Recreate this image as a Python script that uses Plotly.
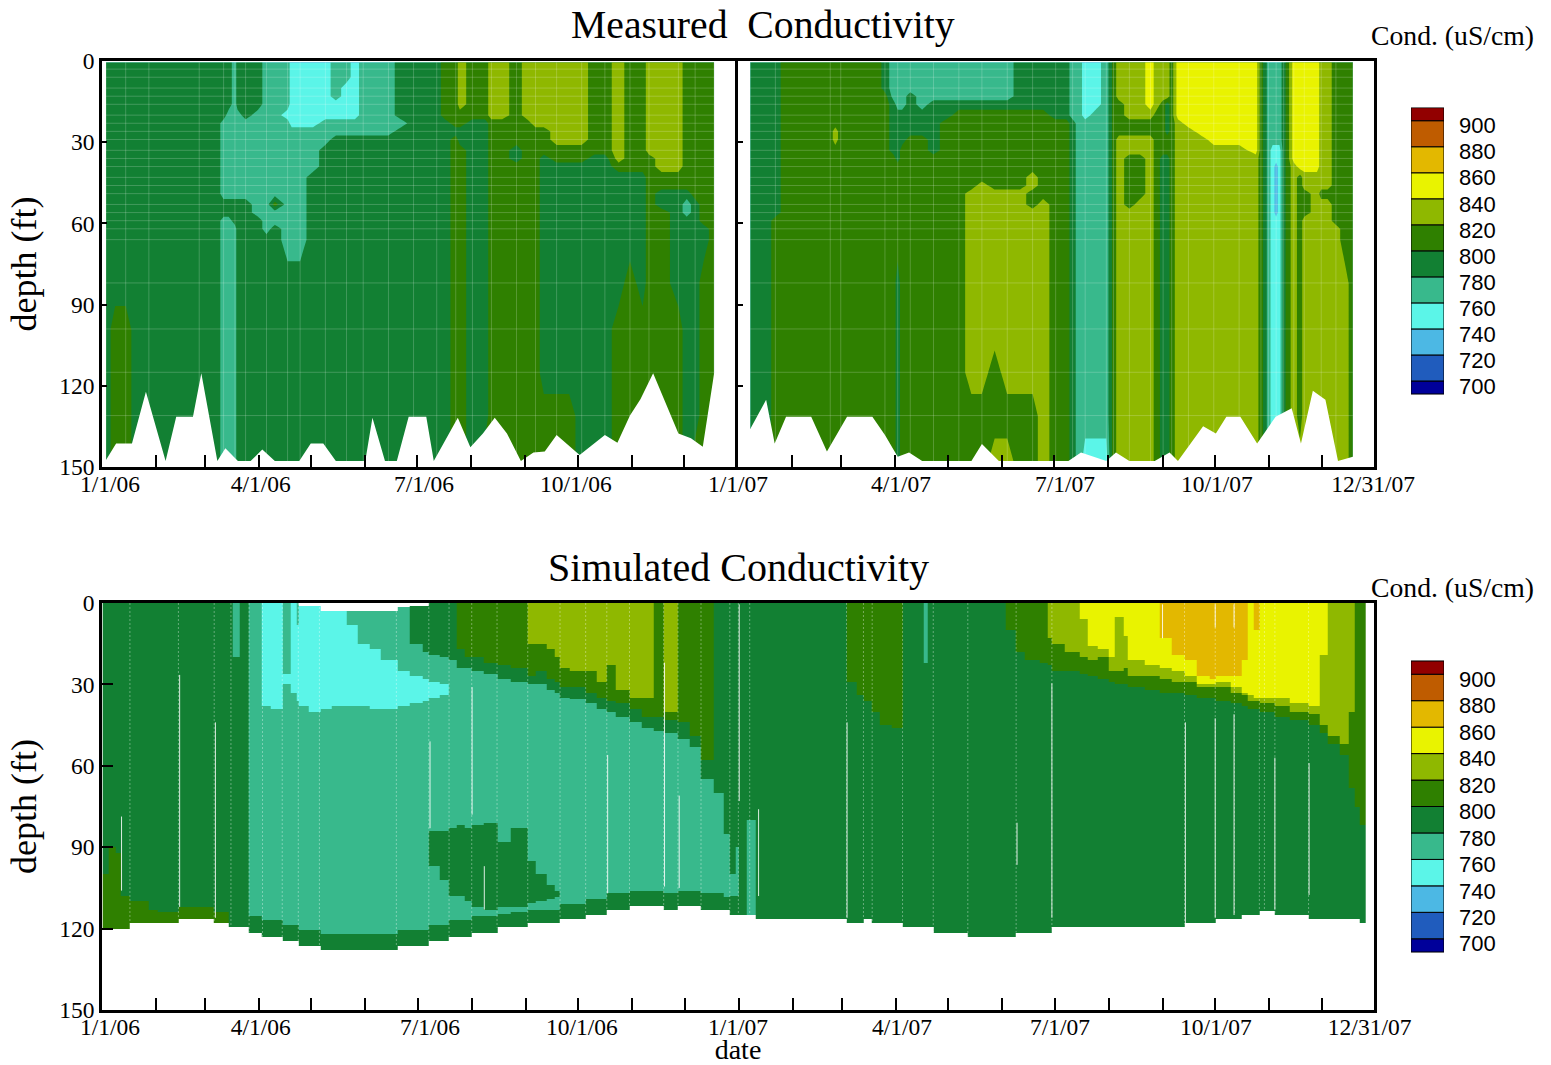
import numpy as np
import pandas as pd
import plotly.graph_objects as go

W, H = 1551, 1065
START = pd.Timestamp("2006-01-01")

def to_dates(days):
    return [START + pd.Timedelta(days=float(d)) for d in days]

# conductivity bands (uS/cm, band centres)
C, T, G, D, O, Y, A = 750, 770, 790, 810, 830, 850, 870
B = 730
X = None

legend_edges = [690, 700, 720, 740, 760, 780, 800, 820, 840, 860, 880, 900, 910]
legend_colors = ["#00009a", "#205cbd", "#4cb8e4", "#5bf5e8", "#38b98c", "#128033",
                 "#2f8000", "#8fb800", "#e9f300", "#e3b800", "#bf5c00", "#920000"]
legend_ticks = [700, 720, 740, 760, 780, 800, 820, 840, 860, 880, 900]

# measured profiles, 2006: [day, value, to depth, value, to depth, ..., value]
measured_2006 = [
    [2.3, G], [7.6, G, 97, D], [13.6, G, 97, D], [20.1, G, 115, D, 130, G], [26.9, G], [41.4, G], [55.8, G], [66, G],
    [69.8, G, 20, T, 50, G, 58, T], [72.7, G, 16, T, 50, G, 58, T], [76.3, T, 50, G, 60, T], [77.8, G, 18, T, 50, G],
    [82.4, G, 22, T, 50, G], [89.6, G, 18, T, 57, G], [94.4, T, 65, G], [99.2, T, 50, D, 54, T, 60, G], [106.5, T, 18, C, 22, T, 66, G],
    [108.9, C, 24, T, 72, G], [113.7, C, 24, T, 73, G], [121, C, 23, T, 42, G], [128.2, C, 22, T, 30, G],
    [134.2, T, 13, C, 20, T, 27, G], [140.3, T, 9, C, 22, T, 28, G], [145.1, C, 21, T, 27, G], [149.9, T, 26, G],
    [157.1, T, 28, G], [164.4, T, 27, G], [171.6, G, 20, T, 24, G], [178.8, G], [186.1, G], [192.1, G],
    [196.9, D, 20, G], [203, D, 25, G, 28, D], [205.4, O, 19, D, 23, G, 30, D], [212.6, D, 22, G], [219.8, D, 22, G, 135, D],
    [223.5, O, 21, D], [229.5, O, 22, D], [237.9, D, 29, G, 36, D], [244, O, 22, D], [248.8, O, 24, D],
    [253.6, O, 25, D, 33, G, 122, D], [260.9, O, 30, D, 37, G, 122, D], [268.1, O, 30, D, 37, G, 115, D], [275.3, O, 30, D, 36, G],
    [282.6, D, 34, G], [288.6, D, 33, G], [296.5, O, 36, D, 41, G, 82, D], [303, D, 41, G, 75, D], [310.3, D, 40, G, 85, D],
    [313.9, O, 35, D], [321.1, O, 40, D, 46, G, 55, D], [330.8, O, 42, D, 46, G, 85, D], [335.6, D, 46, G, 50, T, 58, G],
    [340.4, D, 50, G, 135, D], [345.3, D, 60, G, 80, D], [351.3, D],
]
measured_2006_floor_days = [2.3, 8.1, 17.2, 25.2, 36.5, 42.6, 52.2, 57, 66.2, 70.8, 78, 85.3, 92, 99.2, 113.2, 119.8, 127,
                            134.2, 151.1, 155.2, 162.4, 169.2, 176, 186.1, 190.4, 204.2, 211.4, 218.6, 225.4, 232.4, 240.4,
                            247.6, 254.1, 260.9, 274.1, 277.7, 288.6, 295.8, 303, 309, 316.3, 330.8, 338, 344.8, 351.3]
measured_2006_floor = [147.4, 141.3, 141.3, 122.2, 147.8, 131.4, 131.4, 115.4, 147.8, 143.1, 147.8, 147.8, 143.5, 147.8,
                       147.8, 141.3, 141.3, 147.8, 147.8, 131.8, 147.8, 147.8, 131.4, 131.4, 147.8, 131.8, 142.7, 137.6,
                       131.8, 137.6, 147.8, 144.6, 144.3, 138.2, 145.6, 143.7, 138.2, 141, 131, 125, 115.4, 137.6, 139.4,
                       142.5, 115.4]

# measured profiles, 2007
measured_2007 = [
    [372, G], [381.6, G], [386.4, G, 57, D], [392.5, D], [417.8, D], [420.7, D, 24, O, 29, D], [423.8, D], [445, D],
    [449.1, G, 10, D], [454, T, 15, G, 33, D], [456.4, T, 17, G, 36, D, 75, G], [459, T, 16, G, 30, D], [463.6, T, 12, G, 27, D],
    [470.4, T, 19, G, 27, D], [476.9, T, 13, G, 33, D], [484.1, T, 15, G, 22, D], [491.4, T, 14, G, 18, D],
    [498.6, T, 13, G, 19, D, 47, O, 115, D], [504.6, T, 13, G, 19, D, 44, O, 120, D], [511.9, T, 14, G, 19, D, 47, O, 110, D, 133, O],
    [519.1, T, 14, G, 19, D, 46, O, 115, D, 131, O], [526.3, G, 18, D, 47, O, 115, D], [533.6, G, 18, D, 40, O, 48, D, 53, O, 115, D],
    [539.6, G, 17, D, 50, O], [546.8, G, 20, D], [552.9, G, 21, D], [556.5, T, 20, G], [560.1, T], [563.7, C, 20, T, 140, C],
    [569.7, C, 18, T, 140, C], [575.8, T, 142, C], [578.2, G], [579.9, D], [583, O, 15, D, 27, O],
    [589, O, 22, D, 27, O, 33, D, 54, O], [595.1, O, 22, D, 27, O, 33, D, 50, O], [601.1, Y, 16, O, 21, D, 27, O],
    [604.7, O, 17, D], [608.3, O, 14, D, 35, G], [610.7, O, 13, G, 28, D, 35, G], [613.2, D], [616.8, Y, 20, O],
    [622.8, Y, 23, O], [630, Y, 27, O], [637.3, Y, 30, O], [644.5, Y, 30, O], [651.8, Y, 32, O], [661.4, Y, 34, O],
    [664.3, D], [666.7, G], [668.6, T], [671, T, 32, C], [673, T, 32, C, 37, B, 58, C], [674.9, T, 32, C], [677.3, G], [679.5, D],
    [683.1, Y, 37, O], [686.7, Y, 40, D, 145, O], [689.1, Y, 41, O, 47, D, 58, O], [696.4, Y, 41, O], [698.8, O, 48, D, 50, O],
    [702.4, O, 48, D, 52, O], [707.2, D, 60, O], [712.1, D, 75, O], [716.9, D],
]
measured_2007_floor_days = [372, 381.1, 386, 392.5, 406.9, 415.9, 427.4, 441.9, 449.1, 456.4, 462.9, 470.4, 498.6, 504.6, 514.3,
                            554.1, 561.3, 575.8, 581.3, 589, 603.5, 612, 616.8, 631.2, 638.5, 644.5, 652.5, 662.1, 672.7,
                            681.9, 687.2, 694, 701.2, 708.4, 716.9]
measured_2007_floor = [136, 125.2, 141.3, 131.4, 131.4, 144.3, 131.4, 131.4, 138.2, 146.2, 144.6, 147.8, 147.8, 141.5, 147.8,
                       147.8, 144.6, 147.8, 144.6, 147.8, 147.8, 144.6, 147.8, 134.9, 137.6, 131.4, 131.4, 141.3, 131.4,
                       128.3, 141.3, 121.8, 125.2, 147.8, 146.2]

sample_depths = [0.5, 3, 6, 10, 13, 16, 20, 23, 26, 29, 33, 36, 39, 43, 46, 49, 53, 56, 59, 62, 66, 82, 99, 115, 131, 148]

# simulated profiles: [day, value, to depth, ..., value, to depth]
simulated = [
    [0.4, G, 100, D, 120], [4, G, 90, D, 120], [7.6, G, 92, D, 120], [10.5, G, 108, D, 120], [16, G, 110, D, 118],
    [26.9, G, 113, D, 118], [31.7, G, 114, D, 118], [43.8, G, 112, D, 116.5], [64.3, G, 114, D, 118], [72.7, G, 119.7],
    [75.1, T, 20, G, 119.7], [78.7, G, 119.7], [84.3, T, 115.6, G, 121.4], [91.3, C, 38, T, 117.2, G, 123],
    [96.8, C, 39, T, 117.2, G, 123], [103.6, T, 26, C, 30, T, 118.7, G, 124.5], [108.4, C, 33, T, 118.7, G, 124.5],
    [111.3, T, 8, C, 36, T, 118.7, G, 124.5], [113, X, 1, C, 38, T, 120.5, G, 126.3], [118.5, X, 1, C, 40, T, 120.5, G, 126.3],
    [125.3, X, 3, C, 39, T, 122.1, G, 127.9], [131.8, X, 3, C, 38, T, 122.1, G, 127.9], [140.3, X, 3, T, 8, C, 38, T, 122.1, G, 127.9],
    [146.3, X, 3, T, 15, C, 38, T, 122.1, G, 127.9], [153.5, X, 3, T, 17, C, 39, T, 122.1, G, 127.9],
    [159.5, X, 3, T, 21, C, 39, T, 122.1, G, 127.9], [169.2, X, 1.5, T, 25, C, 38, T, 120.5, G, 126.3],
    [176.4, X, 1, G, 15, T, 27, C, 37, T, 120.5, G, 126.3], [183.7, X, 1, G, 18, T, 28, C, 36, T, 120.5, G, 126.3],
    [187.5, G, 19, T, 29, C, 35, T, 84, G, 97, T, 118.7, G, 124.5], [193.3, G, 20, T, 30, C, 34, T, 84, G, 102, T, 118.7, G, 124.5],
    [198.9, G, 21, T, 83, G, 108, T, 117.2, G, 123], [203, D, 17, G, 24, T, 82, G, 108, T, 117.2, G, 123],
    [207.8, D, 20, G, 24, T, 83, G, 110, T, 117.2, G, 123], [212.1, D, 20, G, 25, T, 82, G, 112, T, 115.6, G, 121.4],
    [218.6, D, 22, G, 26, T, 81, G, 113, T, 115.6, G, 121.4], [226.6, D, 23, G, 28, T, 88, G, 112, T, 114.5, G, 119.7],
    [234.3, D, 24, G, 29, T, 83, G, 112, T, 114, G, 119.7], [244, O, 15, D, 27, G, 30, T, 95, G, 110.5, T, 112.8, G, 118.2],
    [248.8, O, 15, D, 25, G, 30, T, 100, G, 110, T, 113, G, 118.2], [254.8, O, 17, D, 28, G, 32, T, 104, G, 109, T, 113, G, 118.2],
    [259.6, O, 20, D, 29, G, 33, T, 106, G, 108.5, T, 113, G, 118.2], [262.5, O, 24, D, 31, G, 35, T, 110.9, G, 116.5],
    [268.1, O, 25, D, 31, G, 35.5, T, 110.9, G, 116.5], [277.2, O, 25, D, 33, G, 37, T, 109, G, 115],
    [283.8, O, 29, D, 35, G, 39, T, 109, G, 115], [289.3, O, 23, D, 36, G, 40, T, 107.2, G, 113.1],
    [294.6, O, 32, D, 37, G, 42, T, 107.2, G, 113.1], [302.3, O, 35, D, 39, G, 44, T, 105.8, G, 111.5],
    [309.1, O, 35, D, 42, G, 46, T, 105.8, G, 111.5], [316.3, D, 42, G, 47, T, 105.8, G, 111.5],
    [321.9, O, 40, D, 43, G, 48, T, 107.2, G, 113.1], [330.1, D, 44, G, 50, T, 105.8, G, 111.5],
    [336.8, D, 49, G, 53, T, 105.8, G, 111.5], [343.3, D, 58, G, 65, T, 107.2, G, 113.1], [350.6, G, 70, T, 107.2, G, 113.1],
    [356.1, G, 85, T, 108.5, G, 113.1], [359.8, G, 100, T, 108, G, 115], [363.4, G, 90, T, 108, G, 115],
    [364.7, G, 115], [369.5, G, 80, T, 115], [374.9, G, 116.5], [426.7, D, 29, G, 118.2], [432.3, D, 34, G, 118.2],
    [436.4, D, 36, G, 116.5], [441.4, D, 40, G, 118.2], [445.5, D, 45, G, 118.2], [452.8, D, 46, G, 118.2],
    [458.8, G, 119.7], [470.8, T, 22, G, 119.7], [473.3, G, 119.7], [476.4, G, 121.4], [496.2, G, 123],
    [517.9, D, 10, G, 123], [523.9, D, 18, G, 121.4], [528.7, D, 21, G, 121.4], [537.2, D, 22, G, 121.4],
    [542, O, 13, D, 23, G, 121.4], [544.4, O, 15, D, 25, G, 119.7], [551.7, O, 18, D, 25, G, 119.7],
    [560.1, Y, 6, O, 20, D, 26, G, 119.7], [564.9, Y, 16, O, 21, D, 27, G, 119.7], [570.9, Y, 17, O, 20, D, 28, G, 119.7],
    [577, Y, 20, O, 25, D, 29, G, 119.7], [580.6, Y, 5, O, 25, D, 30, G, 119.7], [585.4, Y, 12, O, 24, D, 30, G, 119.7],
    [587.8, Y, 21, O, 27, D, 31, G, 119.7], [597.5, Y, 23, O, 27, D, 32, G, 119.7],
    [606.4, A, 13, Y, 24, O, 28, D, 33, G, 119.7], [613.2, A, 19, Y, 25, O, 29, D, 33, G, 119.7],
    [620.4, A, 21, Y, 27, O, 29, D, 34, G, 118.2], [627.6, A, 27, Y, 30, O, 31, D, 35, G, 118.2],
    [634.9, A, 28, Y, 30, O, 31, D, 35, G, 118.2], [638.5, A, 27, Y, 29, O, 31, D, 36, G, 116.5],
    [646.9, A, 27, Y, 31, O, 33, D, 37, G, 116.5], [652.9, A, 21, Y, 33, O, 34, D, 38, G, 115],
    [656.6, Y, 34, O, 36, D, 39, G, 115], [660.2, A, 10, Y, 35, O, 36, D, 39, G, 115], [663.3, Y, 35, O, 37, D, 40, G, 113.5],
    [672.2, Y, 35, O, 38, D, 42, G, 115], [680.7, Y, 37, O, 40, D, 43, G, 115], [691.5, Y, 38, O, 41, D, 45, G, 116.5],
    [697.6, Y, 19, O, 45, D, 48, G, 116.5], [702.4, O, 49, D, 52, G, 116.5], [709.6, O, 52, D, 56, G, 116.5],
    [714.5, O, 40, D, 68, G, 116.5], [718.1, D, 75, G, 116.5], [721, D, 82, G, 118.2],
]
simulated_end_day = 724.1
seam_days = [16, 43.8, 64.3, 73.9, 84.3, 92, 103.3, 112.5, 124.6, 168.7, 187.3, 198.9, 211.9, 226.4, 244, 262.5, 277.2, 289.3,
             302.3, 321.9, 330.1, 343.3, 359.8, 364.7, 371.2, 426.7, 436.4, 441.4, 458.8, 476.4, 496.2, 523.9, 544.4, 620.4,
             638, 649, 663.3, 666.2, 672.2, 691.5]
seam_floor = [118, 116.5, 118, 119.7, 121.4, 123, 124.5, 126.3, 127.9, 126.3, 124.5, 123, 121.4, 119.7, 118.2, 116.5, 115, 113.1,
              111.5, 113.1, 111.5, 113.1, 115, 115, 116.5, 118.2, 116.5, 118.2, 119.7, 121.4, 123, 121.4, 119.7, 118.2,
              116.5, 115, 113.5, 113.5, 115, 116.5]
streak_days = [11.2, 44.5, 65, 188, 212.1, 219.1, 289.8, 322.4, 330.8, 365.2, 376.3, 427, 524.4, 544.4, 620.9, 638, 648.8, 672.2,
               691.8, 607.8, 638, 648.8]
streak_top = [78.7, 26.5, 44, 51, 31, 97, 56, 22, 71, 0.5, 76, 44, 81, 29.6, 44, 42.5, 41, 57, 59, 0.5, 0.5, 0.5]
streak_bottom = [106, 112, 116, 83, 78, 113, 107, 104.5, 105, 73, 108, 116, 96.5, 116, 118, 116, 115, 113, 107.6, 13, 9, 9]

month_ticks = pd.date_range("2006-01-01", "2008-01-01", freq="MS")
top_tick_text = ["1/1/06", "4/1/06", "7/1/06", "10/1/06", "1/1/07", "4/1/07", "7/1/07", "10/1/07", "12/31/07"]
top_tick_days = [4.6, 91, 184.5, 271.6, 364.5, 457.9, 551.9, 639, 728.5]
low_tick_days = [4.6, 91, 188, 275, 364.5, 458.5, 549, 638.4, 726.5]

depth_ticks = [0, 30, 60, 90, 120, 150]
SERIF = "Liberation Serif"
SANS = "Liberation Sans"

# stepped colour scale shared by every panel
zlo, zhi = legend_edges[0], legend_edges[-1]
colorscale = []
for i, c in enumerate(legend_colors):
    colorscale.append([(legend_edges[i] - zlo) / (zhi - zlo), c])
    colorscale.append([(legend_edges[i + 1] - zlo) / (zhi - zlo), c])


def measured_grid(cols, depths):
    z = []
    for d in depths:
        row = []
        for col in cols:
            runs = col[1:]
            v = runs[-1]
            for k in range(0, len(runs) - 1, 2):
                if d <= runs[k + 1]:
                    v = runs[k]
                    break
            row.append(v)
        z.append(row)
    return np.array(z, float)


def simulated_grid(cols, depths):
    z = []
    for d in depths:
        row = []
        for col in cols:
            runs = col[1:]
            v = np.nan
            for k in range(0, len(runs), 2):
                if d <= runs[k + 1]:
                    v = np.nan if runs[k] is None else runs[k]
                    break
            row.append(v)
        z.append(row)
    return np.array(z, float)


fig = go.Figure()


def add_measured(cols, floor_days, floor, xa, ya):
    days = [c[0] for c in cols]
    fig.add_trace(go.Contour(
        x=to_dates(days), y=sample_depths, z=measured_grid(cols, sample_depths), xaxis=xa, yaxis=ya,
        autocontour=False, contours=dict(start=700, end=900, size=20, coloring="fill", showlines=False),
        line=dict(width=0, smoothing=0), colorscale=colorscale, zmin=zlo, zmax=zhi, showscale=False, hoverinfo="skip"))
    # faint sampling mesh
    mx, my = [], []
    for d in sample_depths:
        mx += [days[0], days[-1], None]
        my += [d, d, None]
    for d in days[::2]:
        mx += [d, d, None]
        my += [0.5, 150, None]
    fig.add_trace(go.Scatter(
        x=[None if v is None else START + pd.Timedelta(days=float(v)) for v in mx], y=my, mode="lines", xaxis=xa, yaxis=ya,
        line=dict(color="rgba(255,255,255,0.2)", width=1), showlegend=False, hoverinfo="skip"))
    # below the deepest reading there is no data
    fig.add_trace(go.Scatter(
        x=to_dates(list(floor_days) + [floor_days[-1] + 1, floor_days[-1] + 1, floor_days[0] - 1, floor_days[0] - 1]),
        y=list(floor) + [floor[-1], 151, 151, floor[0]], mode="lines", fill="toself", fillcolor="white",
        line=dict(width=0, color="white"), xaxis=xa, yaxis=ya, showlegend=False, hoverinfo="skip"))


add_measured(measured_2006, measured_2006_floor_days, measured_2006_floor, "x", "y")
add_measured(measured_2007, measured_2007_floor_days, measured_2007_floor, "x2", "y2")

# simulated panel
sim_days = [c[0] for c in simulated]
sim_edges = sim_days + [simulated_end_day]
sim_depths = np.arange(0.25, 130, 0.5)
fig.add_trace(go.Heatmap(
    x=to_dates(sim_edges), y=np.arange(0, 130.1, 0.5), z=simulated_grid(simulated, sim_depths), xaxis="x3", yaxis="y3",
    colorscale=colorscale, zmin=zlo, zmax=zhi, showscale=False, hoverinfo="skip"))
sx, sy = [], []
for d, f in zip(seam_days, seam_floor):
    sx += [START + pd.Timedelta(days=d), START + pd.Timedelta(days=d), None]
    sy += [0, f, None]
fig.add_trace(go.Scatter(x=sx, y=sy, mode="lines", xaxis="x3", yaxis="y3",
                         line=dict(color="rgba(255,255,255,0.35)", width=1, dash="2px,2px"), showlegend=False, hoverinfo="skip"))
sx, sy = [], []
for d, a, b in zip(streak_days, streak_top, streak_bottom):
    sx += [START + pd.Timedelta(days=d), START + pd.Timedelta(days=d), None]
    sy += [a, b, None]
fig.add_trace(go.Scatter(x=sx, y=sy, mode="lines", xaxis="x3", yaxis="y3",
                         line=dict(color="rgba(255,255,255,0.85)", width=1), showlegend=False, hoverinfo="skip"))

# colour key, twice
for xa, ya in (("x6", "y6"), ("x7", "y7")):
    fig.add_trace(go.Bar(
        x=[0] * len(legend_colors), base=legend_edges[:-1], y=np.diff(legend_edges), width=1,
        marker=dict(color=legend_colors, line=dict(color="black", width=1)), xaxis=xa, yaxis=ya,
        showlegend=False, hoverinfo="skip"))
# carriers that keep the shared date-label axes on the page
for xa, ya in (("x4", "y"), ("x5", "y3")):
    fig.add_trace(go.Scatter(x=[START], y=[None], mode="lines", xaxis=xa, yaxis=ya, showlegend=False, hoverinfo="skip"))


def px(v):
    return v / W


def py(v):
    return 1 - v / H


L, M, R = 102, 738, 1374
TT, TB, BT, BB = 61, 467, 603, 1010
tickfont = dict(family=SERIF, size=23.5, color="black")
frame = dict(showline=True, linecolor="black", linewidth=2.5, showgrid=False, zeroline=False)
xticks = dict(ticks="inside", ticklen=12, tickwidth=2, tickcolor="black", tickmode="array",
              tickvals=list(month_ticks), showticklabels=False, type="date")
yaxis_base = dict(range=[150, 0], tickmode="array", tickvals=depth_ticks, automargin=False, **frame)
ytitle = dict(text="depth (ft)", font=dict(family=SERIF, size=36, color="black"), standoff=12)

d_0, d_1, d_2 = "2006-01-01", "2007-01-01", "2007-12-31"


def label_axis(pos, vals, title=None):
    return dict(domain=[px(L), px(R)], range=[d_0, d_2], type="date", anchor="free", position=pos, showline=False,
                showgrid=False, zeroline=False, ticks="", tickmode="array", tickvals=to_dates(vals),
                ticktext=top_tick_text, tickfont=tickfont, tickangle=0, title=title, automargin=False)


fig.update_layout(
    width=W, height=H, margin=dict(l=0, r=0, t=0, b=0, autoexpand=False), paper_bgcolor="white", plot_bgcolor="rgba(0,0,0,0)",
    showlegend=False, barmode="overlay", hovermode=False,
    xaxis=dict(domain=[px(L), px(M)], range=[d_0, d_1], anchor="y", mirror=True, **frame, **xticks),
    yaxis=dict(domain=[py(TB), py(TT)], anchor="x", ticks="inside", ticklen=5, tickwidth=2, tickcolor="black",
               tickfont=tickfont, title=ytitle, **yaxis_base),
    xaxis2=dict(domain=[px(M), px(R)], range=[d_1, d_2], anchor="y2", mirror=True, **frame, **xticks),
    yaxis2=dict(domain=[py(TB), py(TT)], anchor="x2", ticks="inside", ticklen=5, tickwidth=2, tickcolor="black",
                showticklabels=False, mirror=True, **yaxis_base),
    xaxis3=dict(domain=[px(L), px(R)], range=[d_0, d_2], anchor="y3", mirror=True, **frame, **xticks),
    yaxis3=dict(domain=[py(BB), py(BT)], anchor="x3", ticks="inside", ticklen=11, tickwidth=2, tickcolor="black",
                tickfont=tickfont, title=ytitle, mirror=True, **yaxis_base),
    xaxis4=label_axis(py(TB), top_tick_days),
    xaxis5=label_axis(py(BB), low_tick_days,
                      title=dict(text="date", font=dict(family=SERIF, size=28, color="black"), standoff=3)),
)
for n, (top, bottom) in ((6, (107.7, 394)), (7, (661, 952))):
    fig.update_layout({
        f"xaxis{n}": dict(domain=[px(1411), px(1444)], range=[-0.5, 0.5], anchor=f"y{n}", showticklabels=False, ticks="",
                          showgrid=False, zeroline=False, showline=True, linecolor="#777", linewidth=1, mirror=True),
        f"yaxis{n}": dict(domain=[py(bottom), py(top)], range=[zlo, zhi], anchor=f"x{n}", side="right", tickmode="array",
                          tickvals=legend_ticks, ticks="", showgrid=False, zeroline=False, showline=False,
                          tickfont=dict(family=SANS, size=22, color="black"), ticklabelstandoff=14, ticklabelshift=5),
    })

annotations = [
    dict(text="Measured  Conductivity", x=763, y=25, size=39.7),
    dict(text="Simulated Conductivity", x=738, y=567, size=40),
    dict(text="Cond. (uS/cm)", x=1452, y=35, size=27.7),
    dict(text="Cond. (uS/cm)", x=1452, y=587, size=27.7),
]
for a in annotations:
    fig.add_annotation(text=a["text"], x=px(a["x"]), y=py(a["y"]), xref="paper", yref="paper", showarrow=False,
                       xanchor="center", yanchor="middle", font=dict(family=SERIF, size=a["size"], color="black"))

fig.write_html("out.html", config=dict(displayModeBar=False), post_script="document.body.style.margin='0';")
